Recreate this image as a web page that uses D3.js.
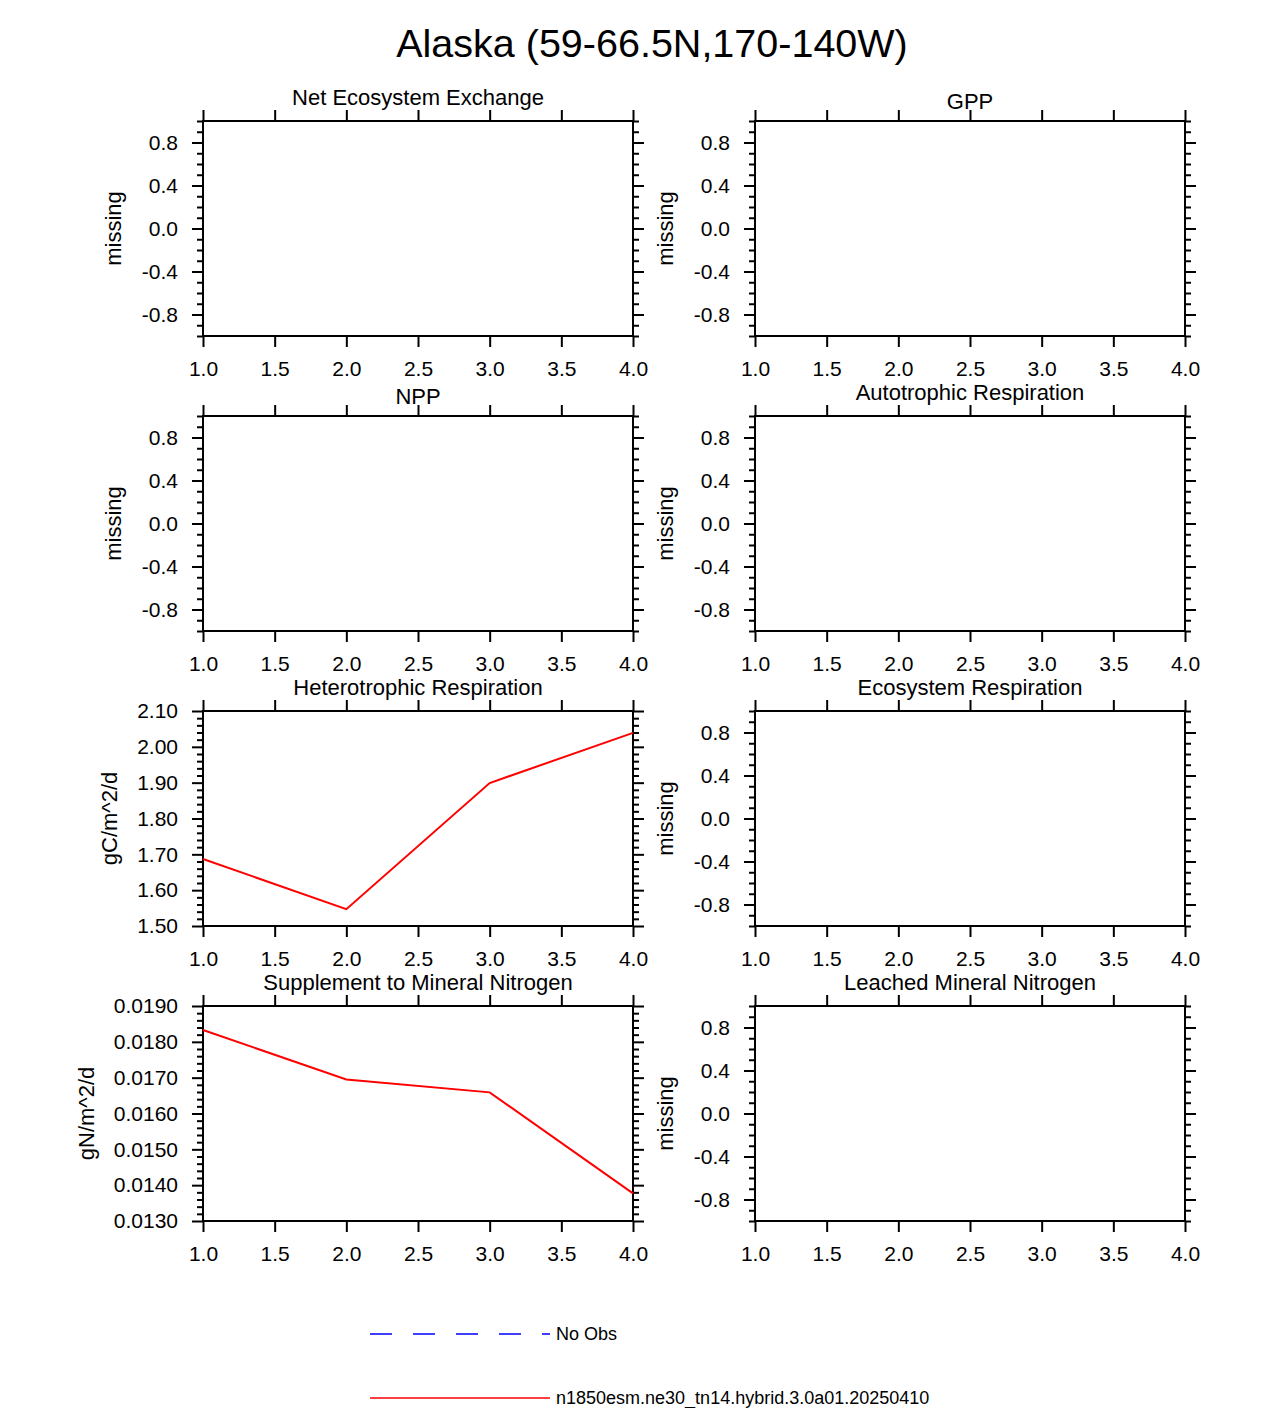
<!DOCTYPE html>
<html lang="en">
<head>
<meta charset="UTF-8">
<script src="https://d3js.org/d3.v7.min.js"></script>
<title>Alaska</title>
<style>
  body { margin: 0; background: #fff; }
  text { font-family: "Liberation Sans", Arial, Helvetica, sans-serif; fill: #000; }
</style>
</head>
<body>
<div id="chart"></div>
<script>
// data
const years = [1, 2, 3, 4];
const hetResp = [1.687, 1.547, 1.899, 2.039];
const suppN = [0.01833, 0.01695, 0.01659, 0.01377];

const panelTitles = ["Net Ecosystem Exchange", "GPP", "NPP", "Autotrophic Respiration",
  "Heterotrophic Respiration", "Ecosystem Respiration",
  "Supplement to Mineral Nitrogen", "Leached Mineral Nitrogen"];
const panelUnits = ["missing", "missing", "missing", "missing",
  "gC/m^2/d", "missing", "gN/m^2/d", "missing"];
const panelSeries = [null, null, null, null, hetResp, null, suppN, null];

const xTicks = [1.0, 1.5, 2.0, 2.5, 3.0, 3.5, 4.0];
const missingTicks = [-0.8, -0.4, 0.0, 0.4, 0.8];
const hrTicks = [1.5, 1.6, 1.7, 1.8, 1.9, 2.0, 2.1];
const snTicks = [0.013, 0.014, 0.015, 0.016, 0.017, 0.018, 0.019];

const legendLabels = ["No Obs", "n1850esm.ne30_tn14.hybrid.3.0a01.20250410"];
const legendColors = ["blue", "red"];

const width = 1275, height = 1408;
const svg = d3.select("#chart").append("svg")
  .attr("width", width).attr("height", height);

svg.append("text")
  .attr("x", 652).attr("y", 57)
  .attr("text-anchor", "middle")
  .style("font-size", "39.5px")
  .text("Alaska (59-66.5N,170-140W)");

const colX = [203, 755];
const rowY = [121, 416, 711, 1006];
const pw = 430, ph = 215;
const majorLen = 11, minorLen = 6;

// y-axis setup per kind of panel
function yConfig(i) {
  if (panelSeries[i] === hetResp)
    return { domain: [1.5, 2.1], ticks: hrTicks, minorStep: 0.02, fmt: d3.format(".2f") };
  if (panelSeries[i] === suppN)
    return { domain: [0.013, 0.019], ticks: snTicks, minorStep: 0.0002, fmt: d3.format(".4f") };
  return { domain: [-1, 1], ticks: missingTicks, minorStep: 0.1, fmt: d3.format(".1f") };
}

panelTitles.forEach((title, i) => {
  const x0 = colX[i % 2], y0 = rowY[Math.floor(i / 2)];
  const g = svg.append("g").attr("transform", `translate(${x0},${y0})`);
  const cfg = yConfig(i);

  const x = d3.scaleLinear().domain([1, 4]).range([0, pw]);
  const y = d3.scaleLinear().domain(cfg.domain).range([ph, 0]);

  const minors = d3.range(cfg.domain[0], cfg.domain[1] + cfg.minorStep / 2, cfg.minorStep)
    .filter(v => !cfg.ticks.some(t => Math.abs(t - v) < cfg.minorStep / 4));

  const fmt = d => cfg.fmt(d).replace("\u2212", "-");

  // minor ticks, left and right
  g.append("g").call(d3.axisLeft(y).tickValues(minors).tickSize(minorLen).tickFormat(""));
  g.append("g").attr("transform", `translate(${pw},0)`)
    .call(d3.axisRight(y).tickValues(minors).tickSize(minorLen).tickFormat(""));

  // major ticks
  const yl = g.append("g").call(d3.axisLeft(y).tickValues(cfg.ticks).tickSize(majorLen)
    .tickPadding(14).tickFormat(fmt));
  g.append("g").attr("transform", `translate(${pw},0)`)
    .call(d3.axisRight(y).tickValues(cfg.ticks).tickSize(majorLen).tickFormat(""));
  g.append("g").attr("transform", `translate(0,${ph})`)
    .call(d3.axisBottom(x).tickValues(xTicks).tickSize(majorLen).tickPadding(14)
      .tickFormat(d3.format(".1f")));
  g.append("g").call(d3.axisTop(x).tickValues(xTicks).tickSize(majorLen).tickFormat(""));

  g.selectAll(".domain").remove();
  g.selectAll(".tick line").attr("stroke", "#000").attr("stroke-width", 2);
  g.selectAll(".tick text").style("font-size", "21px").attr("fill", "#000");

  g.append("rect").attr("width", pw).attr("height", ph)
    .attr("fill", "none").attr("stroke", "#000").attr("stroke-width", 2);

  // panel title
  g.append("text")
    .attr("x", pw / 2).attr("y", /[gjpqy]/.test(title) ? -16 : -12)
    .attr("text-anchor", "middle")
    .style("font-size", "22px")
    .text(title);

  // y label placed left of widest tick label
  let maxW = 0;
  yl.selectAll(".tick text").each(function () { maxW = Math.max(maxW, this.getBBox().width); });
  const lx = -majorLen - 14 - maxW - 20;
  g.append("text")
    .attr("transform", `translate(${lx},${ph / 2}) rotate(-90)`)
    .attr("text-anchor", "middle")
    .style("font-size", "22px")
    .text(panelUnits[i]);

  if (panelSeries[i]) {
    const line = d3.line().x((d, k) => x(years[k])).y(d => y(d));
    g.append("path").datum(panelSeries[i])
      .attr("fill", "none").attr("stroke", "red").attr("stroke-width", 2)
      .attr("d", line);
  }
});

// legend
const legY = [1334, 1398];
legendLabels.forEach((lab, i) => {
  svg.append("line")
    .attr("x1", 370).attr("x2", 550).attr("y1", legY[i]).attr("y2", legY[i])
    .attr("stroke", legendColors[i]).attr("stroke-width", 1.5)
    .attr("stroke-dasharray", i === 0 ? "22 21" : null);
  svg.append("text")
    .attr("x", 556).attr("y", legY[i] + 6)
    .style("font-size", "18px")
    .text(lab);
});
</script>
</body>
</html>
